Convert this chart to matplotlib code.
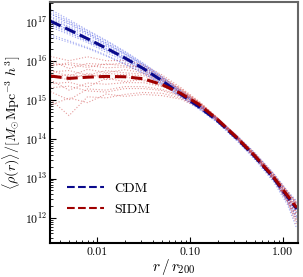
import numpy as np
import matplotlib
matplotlib.use("Agg")
import matplotlib.pyplot as plt
import matplotlib.ticker as mticker
from matplotlib.lines import Line2D

plt.rcParams['font.family'] = 'cmr10'
plt.rcParams['mathtext.fontset'] = 'cm'
plt.rcParams['axes.unicode_minus'] = False
plt.rcParams['axes.formatter.use_mathtext'] = True

# radial nodes (r / r200)
r = [0.00316, 0.00501, 0.00794, 0.0126, 0.0200, 0.0316, 0.0501, 0.0794,
     0.126, 0.200, 0.316, 0.501, 0.794, 1.12, 1.41]

# stacked mean profiles, log10 rho
cdm_mean = [17.02, 16.80, 16.57, 16.33, 16.08, 15.81, 15.50, 15.16,
            14.83, 14.47, 14.04, 13.56, 13.02, 12.54, 12.23]
sidm_mean = [15.62, 15.56, 15.59, 15.61, 15.60, 15.55, 15.40, 15.18,
             14.89, 14.50, 14.06, 13.58, 13.04, 12.57, 12.26]

# individual haloes: offsets from the mean (dex)
cdm_halos = [
    [0.25, 0.22, 0.20, 0.18, 0.15, 0.12, 0.10, 0.08, 0.05, 0.04, 0.02, 0.00, -0.02, -0.05, -0.08],
    [0.18, 0.20, 0.15, 0.14, 0.12, 0.10, 0.08, 0.08, 0.06, 0.05, 0.06, 0.08, 0.10, 0.12, 0.15],
    [0.10, 0.08, 0.10, 0.07, 0.06, 0.05, 0.04, 0.03, 0.02, 0.00, -0.02, -0.03, -0.05, -0.10, -0.18],
    [0.05, 0.06, 0.03, 0.04, 0.02, 0.02, 0.00, 0.01, 0.02, 0.03, 0.05, 0.06, 0.08, 0.10, 0.12],
    [-0.02, 0.00, -0.03, -0.02, -0.04, -0.03, -0.02, 0.00, 0.01, 0.02, 0.00, -0.02, -0.04, -0.08, -0.12],
    [-0.08, -0.05, -0.07, -0.06, -0.05, -0.06, -0.05, -0.04, -0.03, -0.02, 0.00, 0.02, 0.03, 0.02, 0.00],
    [-0.15, -0.12, -0.10, -0.11, -0.09, -0.08, -0.07, -0.05, -0.04, -0.02, -0.01, 0.00, -0.03, -0.15, -0.35],
    [-0.35, -0.28, -0.22, -0.18, -0.15, -0.12, -0.10, -0.08, -0.06, -0.05, -0.06, -0.08, -0.10, -0.20, -0.50],
    [0.30, 0.26, 0.22, 0.20, 0.17, 0.14, 0.11, 0.09, 0.07, 0.06, 0.04, 0.03, 0.04, 0.06, 0.08],
    [0.12, 0.14, 0.12, 0.10, 0.10, 0.08, 0.06, 0.04, 0.02, 0.01, 0.00, 0.01, 0.02, 0.00, -0.04],
    [-0.40, -0.32, -0.25, -0.20, -0.16, -0.12, -0.09, -0.06, -0.04, -0.03, -0.04, -0.05, -0.06, -0.05, -0.02],
    [0.02, -0.02, 0.00, -0.01, 0.01, 0.00, 0.02, 0.03, 0.04, 0.05, 0.08, 0.10, 0.12, 0.15, 0.20],
    [-0.10, -0.08, -0.06, -0.05, -0.02, 0.00, 0.02, 0.04, 0.05, 0.04, 0.03, 0.02, 0.00, -0.05, -0.25],
    [0.20, 0.16, 0.16, 0.12, 0.10, 0.09, 0.07, 0.05, 0.03, 0.02, -0.01, -0.03, -0.06, -0.12, -0.22],
]
sidm_halos = [
    [0.50, 0.45, 0.52, 0.40, 0.42, 0.35, 0.25, 0.15, 0.08, 0.05, 0.03, 0.02, 0.00, -0.02, -0.05],
    [0.30, 0.35, 0.25, 0.32, 0.28, 0.30, 0.20, 0.12, 0.06, 0.04, 0.05, 0.06, 0.08, 0.10, 0.12],
    [0.15, 0.05, 0.20, 0.10, 0.18, 0.15, 0.12, 0.08, 0.04, 0.02, 0.00, -0.02, -0.04, -0.08, -0.15],
    [-0.05, 0.10, 0.00, 0.08, 0.05, 0.08, 0.05, 0.04, 0.02, 0.03, 0.05, 0.06, 0.08, 0.10, 0.12],
    [-0.20, -0.10, -0.25, -0.05, -0.12, -0.02, 0.00, 0.02, 0.03, 0.02, 0.00, -0.02, -0.04, -0.10, -0.20],
    [-0.40, -0.55, -0.30, -0.35, -0.25, -0.20, -0.12, -0.06, -0.03, -0.02, 0.00, 0.02, 0.03, 0.02, 0.00],
    [-0.60, -0.95, -0.50, -0.55, -0.45, -0.35, -0.22, -0.12, -0.05, -0.02, -0.01, 0.00, -0.03, -0.15, -0.35],
    [0.40, 0.25, 0.35, 0.30, 0.35, 0.25, 0.18, 0.10, 0.05, 0.02, 0.00, -0.03, -0.06, -0.15, -0.45],
    [-0.30, -0.20, -0.35, -0.40, -0.30, -0.25, -0.15, -0.08, -0.04, -0.03, -0.04, -0.05, -0.06, -0.05, -0.02],
    [0.10, 0.20, 0.05, 0.15, 0.10, 0.12, 0.10, 0.06, 0.04, 0.04, 0.03, 0.02, 0.02, 0.00, -0.05],
    [-0.75, -0.50, -0.65, -0.45, -0.50, -0.40, -0.28, -0.15, -0.08, -0.04, -0.02, 0.00, 0.02, 0.05, 0.08],
    [0.25, 0.40, 0.30, 0.22, 0.25, 0.20, 0.15, 0.10, 0.06, 0.04, 0.02, 0.01, 0.00, -0.05, -0.12],
    [-0.10, -0.30, -0.15, -0.20, -0.15, -0.10, -0.05, -0.02, 0.00, 0.01, 0.02, 0.04, 0.05, 0.08, 0.10],
    [0.05, -0.05, 0.10, -0.08, 0.00, -0.05, -0.03, 0.00, 0.01, 0.00, -0.02, -0.04, -0.06, -0.12, -0.30],
]

cdm_col = '#0a0a8c'
sidm_col = '#a00000'

fig = plt.figure(figsize=(3.03, 2.77), dpi=100)
ax = fig.add_axes([0.165, 0.123, 0.818, 0.870])

r_arr = np.array(r)
for off in cdm_halos:
    ax.plot(r_arr, 10 ** (np.array(cdm_mean) + np.array(off)), ls=':', lw=0.8,
            color='#4d5ce6', alpha=0.55)
for off in sidm_halos:
    ax.plot(r_arr, 10 ** (np.array(sidm_mean) + np.array(off)), ls=':', lw=0.8,
            color='#d04848', alpha=0.55)

ax.plot(r_arr, 10 ** np.array(cdm_mean), ls='--', lw=2.2, color=cdm_col)
ax.plot(r_arr, 10 ** np.array(sidm_mean), ls='--', lw=2.2, color=sidm_col,
        dashes=(3.7, 1.6))

ax.set_xscale('log')
ax.set_yscale('log')
ax.set_xlim(0.00313, 1.45)
ax.set_ylim(10 ** 11.36, 10 ** 17.51)

ax.xaxis.set_major_locator(mticker.FixedLocator([0.01, 0.1, 1.0]))
ax.xaxis.set_major_formatter(mticker.FormatStrFormatter('%.2f'))
ax.xaxis.set_minor_formatter(mticker.NullFormatter())
ax.yaxis.set_major_locator(mticker.LogLocator(base=10, numticks=10))
ax.yaxis.set_minor_formatter(mticker.NullFormatter())

ax.tick_params(which='both', direction='in', labelsize=8.5)
ax.tick_params(which='major', length=4, width=0.8)
ax.tick_params(which='minor', length=2, width=0.6)
ax.tick_params(axis='x', pad=3)
ax.tick_params(axis='y', pad=2)

for s in ['left', 'bottom']:
    ax.spines[s].set_linewidth(1.5)
    ax.spines[s].set_color('black')
for s in ['top', 'right']:
    ax.spines[s].set_linewidth(1.5)
    ax.spines[s].set_color('#666666')

ax.set_xlabel(r'$r\,/\,r_{200}$', fontsize=11, labelpad=0)
ax.set_ylabel(r'$\langle\rho(r)\rangle/[M_{\odot}\mathrm{Mpc}^{-3}\ h^{3}]$', fontsize=10, labelpad=1)

handles = [Line2D([], [], ls='--', lw=1.5, color=cdm_col),
           Line2D([], [], ls='--', lw=1.5, color=sidm_col)]
ax.legend(handles, ['CDM', 'SIDM'], loc='lower left', frameon=False, fontsize=10,
          bbox_to_anchor=(0.02, 0.06), handlelength=2.6, labelspacing=0.6)

fig.savefig('out.png', dpi=100)
